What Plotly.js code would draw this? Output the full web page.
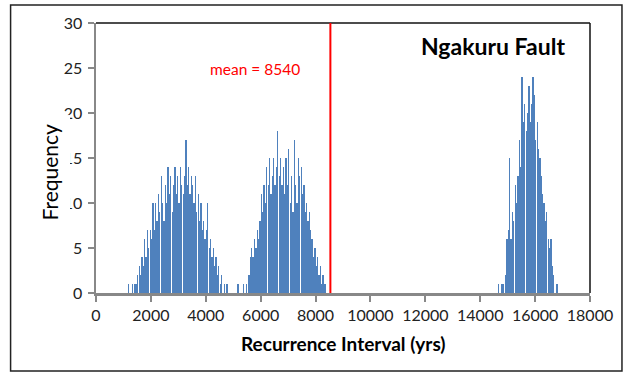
<!DOCTYPE html>
<html>
<head>
<meta charset="utf-8">
<script src="https://cdn.plot.ly/plotly-3.0.1.min.js"></script>
<style>
  html, body { margin: 0; padding: 0; background: #fff; }
  #chart { width: 634px; height: 377px; }
</style>
</head>
<body>
<div id="chart"></div>
<script>
// Histogram of simulated recurrence intervals, 50-year bins
const binWidth = 50;

// first group of intervals, bins starting at 1150 yrs
const groupAStart = 1150;
const groupACounts = [
  1, 0, 0, 1, 0, 1, 1, 2, 3, 2,
  4, 3, 6, 4, 7, 5, 7, 6, 10, 7,
  10, 8, 11, 9, 13, 10, 8, 12, 10, 14,
  11, 13, 9, 12, 14, 11, 13, 10, 14, 12,
  11, 13, 17, 12, 14, 11, 13, 12, 10, 13,
  9, 11, 8, 10, 7, 8, 6, 7, 10, 5,
  6, 4, 5, 3, 4, 2, 3, 1, 2, 0,
  1, 0, 1, 0
];

// second group, bins starting at 5150 yrs
const groupBStart = 5150;
const groupBCounts = [
  1, 0, 0, 0, 1, 0, 1, 0, 2, 4,
  5, 4, 6, 5, 7, 6, 8, 11, 9, 12,
  10, 14, 12, 15, 11, 13, 15, 12, 14, 18,
  13, 15, 12, 14, 11, 15, 12, 16, 10, 13,
  9, 17, 12, 10, 15, 13, 14, 11, 12, 9,
  10, 8, 9, 7, 6, 4, 5, 3, 4, 2,
  3, 1, 2, 1, 1, 0
];

// third group, bins starting at 14650 yrs
const groupCStart = 14650;
const groupCCounts = [
  1, 0, 1, 1, 0, 2, 6, 7, 15, 6,
  9, 8, 12, 10, 13, 17, 14, 24, 19, 21,
  18, 20, 23, 19, 21, 24, 22, 17, 19, 16,
  15, 13, 11, 10, 8, 9, 6, 5, 6, 3,
  2, 0, 1, 1
];

const meanInterval = 8540;

const xTickVals = [0, 2000, 4000, 6000, 8000, 10000, 12000, 14000, 16000, 18000];
const yTickVals = [0, 5, 10, 15, 20, 25, 30];

function binCentres(start, counts) {
  return counts.map((_, i) => start + binWidth * (i + 0.5));
}

const xs = [].concat(
  binCentres(groupAStart, groupACounts),
  binCentres(groupBStart, groupBCounts),
  binCentres(groupCStart, groupCCounts)
);
const ys = [].concat(groupACounts, groupBCounts, groupCCounts);

const font = 'Lato, "Open Sans", "DejaVu Sans", sans-serif';

const trace = {
  type: 'bar',
  x: xs,
  y: ys,
  width: binWidth * 0.92,
  marker: { color: '#4F81BD', line: { width: 0 } },
  hoverinfo: 'x+y'
};

// plot-area geometry in pixels, used to place frame and labels
const L = 95.5, R = 590, T = 23, B = 293, W = 634, H = 377;
const px = v => (v - L) / (R - L);
const py = v => (B - v) / (B - T);

const axisCommon = {
  ticks: 'outside',
  ticklen: 6,
  tickwidth: 2,
  tickcolor: '#888',
  showline: true,
  linecolor: '#888',
  linewidth: 2.5,
  showgrid: false,
  zeroline: false,
  tickformat: 'd',
  tickfont: { family: font, size: 16, color: '#222' },
  fixedrange: true
};

const layout = {
  width: W,
  height: H,
  margin: { l: L, r: W - R, t: T, b: H - B, pad: 0 },
  paper_bgcolor: '#fff',
  plot_bgcolor: '#fff',
  showlegend: false,
  bargap: 0,
  xaxis: Object.assign({}, axisCommon, {
    range: [0, 18000],
    tickvals: xTickVals,
    ticktext: xTickVals.map(String)
  }),
  yaxis: Object.assign({}, axisCommon, {
    range: [0, 30],
    tickvals: yTickVals,
    ticklabelstandoff: 2
  }),
  shapes: [
    // frame on top and right of plot area
    { type: 'line', xref: 'paper', yref: 'paper', x0: 0, x1: 1, y0: 1, y1: 1,
      line: { color: '#111', width: 1.5 } },
    { type: 'line', xref: 'paper', yref: 'paper', x0: 1, x1: 1, y0: 0, y1: 1,
      line: { color: '#111', width: 1.5 } },
    // outer chart border
    { type: 'rect', xref: 'paper', yref: 'paper',
      x0: px(10), x1: px(622), y0: py(371), y1: py(5),
      line: { color: '#222', width: 1.5 }, fillcolor: 'rgba(0,0,0,0)' },
    // mean line
    { type: 'line', xref: 'x', yref: 'paper', x0: meanInterval, x1: meanInterval, y0: 0, y1: 1,
      line: { color: '#FF0000', width: 2 } }
  ],
  annotations: [
    { text: '<b>Ngakuru Fault</b>', xref: 'paper', yref: 'paper',
      x: px(493), y: py(46), xanchor: 'center', yanchor: 'middle', showarrow: false,
      font: { family: font, size: 23, color: '#000' } },
    { text: 'mean = ' + meanInterval, xref: 'paper', yref: 'paper',
      x: px(302), y: py(69), xanchor: 'right', yanchor: 'middle', showarrow: false,
      font: { family: font, size: 15.5, color: '#FF0000' } },
    { text: '<b>Recurrence Interval (yrs)</b>', xref: 'paper', yref: 'paper',
      x: px(343), y: py(343), xanchor: 'center', yanchor: 'middle', showarrow: false,
      font: { family: font, size: 19, color: '#000' } },
    { text: 'Frequency', xref: 'paper', yref: 'paper',
      x: px(48), y: py(172), xanchor: 'center', yanchor: 'middle', showarrow: false,
      textangle: -90, bgcolor: '#fff', borderpad: 8,
      font: { family: font, size: 21, color: '#000' } }
  ]
};

Plotly.newPlot('chart', [trace], layout, { displayModeBar: false, staticPlot: true });
</script>
</body>
</html>
